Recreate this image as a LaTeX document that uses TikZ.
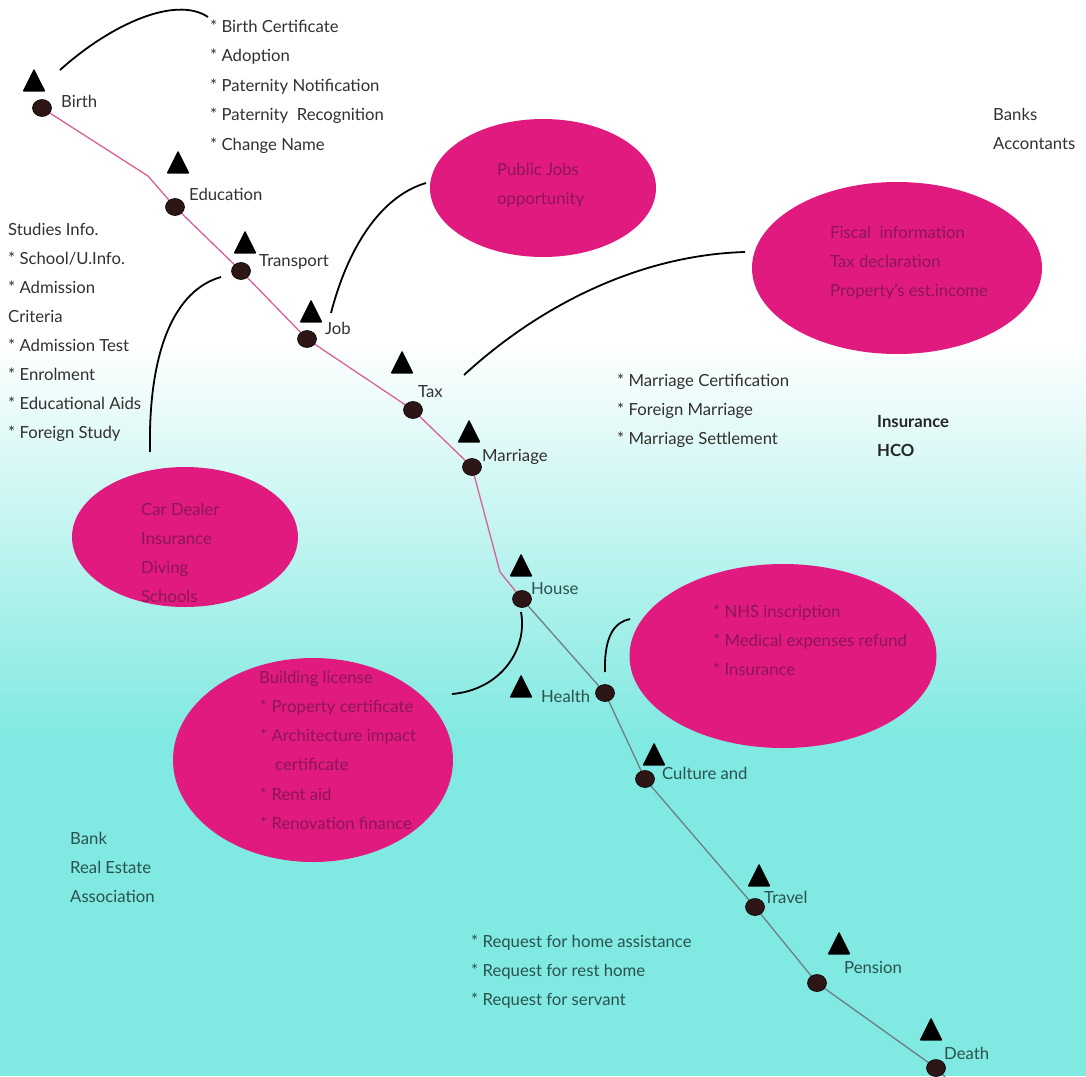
\documentclass[tikz,border=0pt]{standalone}
\usepackage{fontspec}
\setmainfont{Lato}
\usetikzlibrary{shapes.geometric,backgrounds}
\definecolor{mag}{HTML}{E11A80}
\definecolor{magtext}{HTML}{8C1656}
\definecolor{cyanbg}{HTML}{80E9E1}
\definecolor{pinkline}{HTML}{D9609A}
\definecolor{greyline}{HTML}{6E7F80}
\definecolor{txttop}{HTML}{333030}
\definecolor{txtlow}{HTML}{2B524E}
\definecolor{dotfill}{HTML}{2E1616}
\begin{document}
\begin{tikzpicture}[x=1pt,y=-1pt,
  txt/.style={anchor=base west,inner sep=0pt,font=\fontsize{16.7}{19}\selectfont,text=txttop},
  low/.style={txt,text=txtlow},
  intxt/.style={txt,text=magtext},
  blob/.style={ellipse,fill=mag,draw=none,inner sep=0pt},
  dot/.style={ellipse,fill=dotfill,draw=black,line width=0.6pt,minimum width=19pt,minimum height=17pt,inner sep=0pt},
  link/.style={black,line width=1.8pt},
  tri/.pic={\fill[black,rounded corners=1pt] (-11.5,11.5) -- (0,-11.5) -- (11.5,11.5) -- cycle;},
]
\useasboundingbox (0,0) rectangle (1086,1076);

% ellipses
\node[blob,minimum width=226pt,minimum height=138pt] (pj) at (543,188) {};
\node[blob,minimum width=290pt,minimum height=172pt] (fis) at (897,268) {};
\node[blob,minimum width=226pt,minimum height=140pt] (car) at (185,537) {};
\node[blob,minimum width=307pt,minimum height=184pt] (hea) at (783,656) {};
\node[blob,minimum width=280pt,minimum height=204pt] (bld) at (313,760) {};

% dots
\node[dot] (d1) at (42,108) {};
\node[dot] (d2) at (175,207) {};
\node[dot] (d3) at (241,271) {};
\node[dot] (d4) at (307,339) {};
\node[dot] (d5) at (413,410) {};
\node[dot] (d6) at (472,467) {};
\node[dot] (d7) at (522,599) {};
\node[dot] (d8) at (605,693) {};
\node[dot] (d9) at (645,779) {};
\node[dot] (d10) at (755,907) {};
\node[dot] (d11) at (817,983) {};
\node[dot] (d12) at (936,1068) {};
\coordinate (k1) at (148,176);
\coordinate (k2) at (500,572);
\coordinate (k3) at (950,1082);

\begin{pgfonlayer}{background}
  \fill[white] (0,0) rectangle (1086,1076);
  \shade[top color=white,bottom color=cyanbg] (0,340) rectangle (1086,740);
  \fill[cyanbg] (0,739) rectangle (1086,1076);
  \draw[pinkline,line width=1.3pt] (d1.center) -- (k1) -- (d2.center) -- (d3.center) -- (d4.center) -- (d5.center) -- (d6.center) -- (k2) -- (d7.center);
  \draw[greyline,line width=1.3pt] (d7.center) -- (d8.center) -- (d9.center) -- (d10.center) -- (d11.center) -- (d12.center) -- (k3);
\end{pgfonlayer}

% triangles
\foreach \p/\n in {(34,80)/t1,(178,162)/t2,(245,242)/t3,(311,311)/t4,(402,362)/t5,(469,431)/t6,(521,565)/t7,(521,686)/t8,(654,754)/t9,(759,875)/t10,(839,943)/t11,(931,1029)/t12}
  \pic (\n) at \p {tri};

% stage labels
\node[txt] (lb1) at (61,107) {Birth};
\node[txt] (lb2) at (189,200) {Education};
\node[txt] (lb3) at (259,266) {Transport};
\node[txt] (lb4) at (325,334) {Job};
\node[txt] (lb5) at (418,397) {Tax};
\node[txt] (lb6) at (482,461) {Marriage};
\node[low] (lb7) at (531,594) {House};
\node[low] (lb8) at (541,702) {Health};
\node[low] (lb9) at (662,779) {Culture and};
\node[low] (lb10) at (764,903) {Travel};
\node[low] (lb11) at (844,973) {Pension};
\node[low] (lb12) at (944,1059) {Death};

% birth list
\foreach \t [count=\i] in {* Birth Certificate,* Adoption,* Paternity Notification,* Paternity\ \ Recognition,* Change Name}
  \node[txt] (bl\i) at (210,{32+(\i-1)*29.5}) {\t};

% studies list
\foreach \t [count=\i] in {Studies Info.,* School/U.Info.,* Admission,Criteria,* Admission Test,* Enrolment,* Educational Aids,* Foreign Study}
  \node[txt] (st\i) at (8,{235+(\i-1)*29}) {\t};

% banks
\node[txt] (bk1) at (993,120) {Banks};
\node[txt] (bk2) at (993,149) {Accontants};

% marriage list
\foreach \t [count=\i] in {* Marriage Certification,* Foreign Marriage,* Marriage Settlement}
  \node[txt] (ml\i) at (617,{386+(\i-1)*29}) {\t};

% insurance
\node[txt,font=\fontsize{16.7}{19}\selectfont\bfseries,text=black!85] (in1) at (877,427) {Insurance};
\node[txt,font=\fontsize{16.7}{19}\selectfont\bfseries,text=black!85] (in2) at (877,456) {HCO};

% bank real estate
\foreach \t [count=\i] in {Bank,Real Estate,Association}
  \node[low] (re\i) at (70,{844+(\i-1)*29}) {\t};

% requests
\foreach \t [count=\i] in {* Request for home assistance,* Request for rest home,* Request for servant}
  \node[low] (rq\i) at (471,{947+(\i-1)*29}) {\t};

% ellipse texts
\node[intxt] (pj1) at (497,175) {Public Jobs};
\node[intxt] (pj2) at (497,204) {opportunity};
\node[intxt] (fi1) at (830,238) {Fiscal\ \ information};
\node[intxt] (fi2) at (830,267) {Tax declaration};
\node[intxt] (fi3) at (830,296) {Property's est.income};
\foreach \t [count=\i] in {Car Dealer,Insurance,Diving,Schools}
  \node[intxt] (cd\i) at (141,{515+(\i-1)*29}) {\t};
\foreach \t [count=\i] in {* NHS inscription,* Medical expenses refund,* Insurance}
  \node[intxt] (hl\i) at (713,{617+(\i-1)*29}) {\t};
\node[intxt] (bd1) at (259,683) {Building license};
\node[intxt] (bd2) at (260,712) {* Property certificate};
\node[intxt] (bd3) at (260,741) {* Architecture impact};
\node[intxt] (bd4) at (275,770) {certificate};
\node[intxt] (bd5) at (260,800) {* Rent aid};
\node[intxt] (bd6) at (260,829) {* Renovation finance};

% connector curves
\coordinate (c1a) at (60,70);   \coordinate (c1b) at (208,17);
\coordinate (c2a) at (221,277); \coordinate (c2b) at (150,452);
\coordinate (c3a) at (331,313); \coordinate (c3b) at (426,183);
\coordinate (c4a) at (464,375); \coordinate (c4b) at (745,252);
\coordinate (c5a) at (452,694); \coordinate (c5b) at (521,612);
\coordinate (c6a) at (605,672); \coordinate (c6b) at (630,619);
\draw[link] (c1a) .. controls (110,25) and (175,-5) .. (c1b);
\draw[link] (c2a) .. controls (175,290) and (148,350) .. (c2b);
\draw[link] (c3a) .. controls (350,240) and (385,195) .. (c3b);
\draw[link] (c4a) .. controls (540,305) and (640,255) .. (c4b);
\draw[link] (c5a) .. controls (500,690) and (528,650) .. (c5b);
\draw[link] (c6a) .. controls (604,635) and (615,622) .. (c6b);
\end{tikzpicture}
\end{document}
